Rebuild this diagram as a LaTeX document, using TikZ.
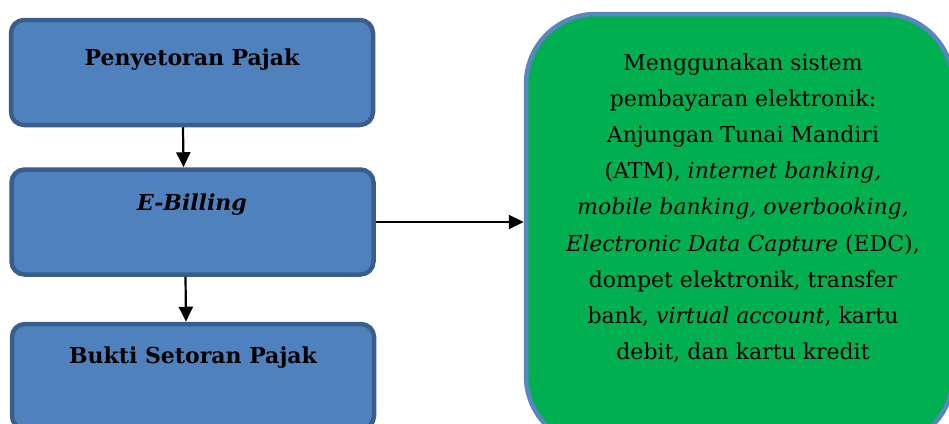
\documentclass[tikz,border=0pt]{standalone}
\usepackage{fontspec}
\setmainfont{DejaVu Serif}
\usetikzlibrary{arrows.meta}
\definecolor{boxfill}{HTML}{4F81BD}
\definecolor{boxline}{HTML}{3A5E8C}
\definecolor{greenfill}{HTML}{00B050}
\definecolor{greenline}{HTML}{5A84C2}
\tikzset{
  stagebox/.style={draw=boxline, fill=boxfill, line width=4.5pt, rounded corners=13pt,
    minimum width=362pt, minimum height=105pt, inner sep=0pt},
  stagetext/.style={font=\fontsize{22}{26}\selectfont\bfseries, inner sep=0pt},
  infobox/.style={draw=greenline, fill=greenfill, line width=4.5pt, rounded corners=70pt,
    minimum width=427pt, minimum height=432pt, inner sep=0pt},
  infotext/.style={font=\fontsize{22}{36.2}\selectfont, align=center, inner sep=0pt},
  flow/.style={line width=2.2pt, -{Triangle[length=15pt,width=14pt]}}
}
\begin{document}
\begin{tikzpicture}[x=1pt, y=-1pt]
  \useasboundingbox (0,0) rectangle (949,423);
  \clip (0,0) rectangle (949,423);
  % three process stages on the left
  \node[stagebox] (b1) at (192,72.5) {};
  \node[stagebox] (b2) at (192.5,222) {};
  \node[stagebox] (b3) at (193,376.5) {};
  \node[stagetext] (t1) at (192,60) {Penyetoran Pajak};
  \node[stagetext] (t2) at (192,205) {\itshape E-Billing};
  \node[stagetext] (t3) at (193,358) {Bukti Setoran Pajak};
  % payment channels
  \node[infobox] (g) at (739.5,230) {};
  \node[infotext] (gt) at (743,208) {Menggunakan sistem\\
    pembayaran elektronik:\\
    Anjungan Tunai Mandiri\\
    (ATM), \textit{internet banking,}\\
    \textit{mobile banking, overbooking,}\\
    \textit{Electronic Data Capture} (EDC),\\
    dompet elektronik, transfer\\
    bank, \textit{virtual account}, kartu\\
    debit, dan kartu kredit};
  % connectors
  \draw[flow] ([xshift=-9pt]b1.south) -- ([xshift=-9pt]b2.north);
  \draw[flow] ([xshift=-7pt]b2.south) -- ([xshift=-7pt]b3.north);
  \draw[flow] (b2.east) -- (b2.east -| g.west);
\end{tikzpicture}
\end{document}
